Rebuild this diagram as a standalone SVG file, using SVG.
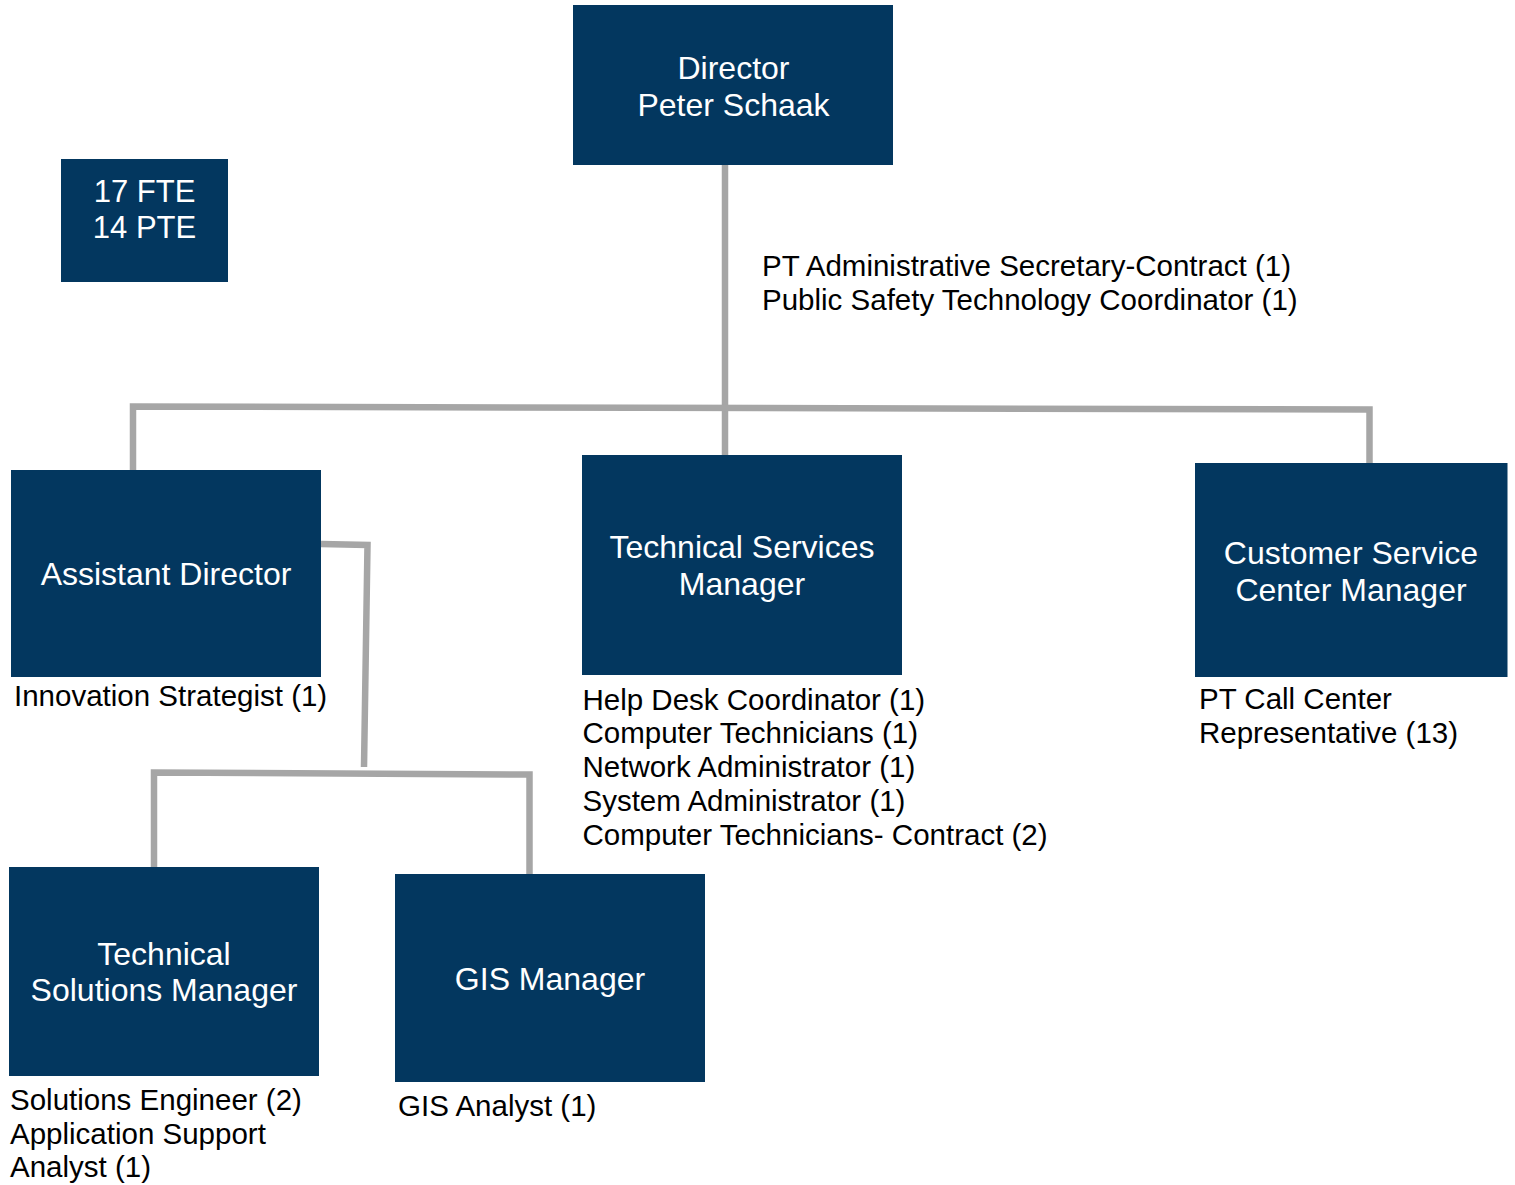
<svg xmlns="http://www.w3.org/2000/svg" width="1515" height="1185" viewBox="0 0 1515 1185">
<style>
.box{fill:#03375F;}
.bt{font-family:"Liberation Sans",Arial,sans-serif;font-size:32px;fill:#FFFFFF;text-anchor:middle;}
.lb{font-family:"Liberation Sans",Arial,sans-serif;font-size:29.5px;fill:#000000;}
.ln{fill:none;stroke:#A6A6A6;stroke-width:6.5;stroke-linejoin:miter;stroke-linecap:butt;}
</style>
<rect width="1515" height="1185" fill="#FFFFFF"/>
<g id="connectors">
<line class="ln" x1="725" y1="165" x2="725" y2="456"/>
<polyline class="ln" points="133,470 133,406.5 1369.5,409.5 1369.5,464"/>
<polyline class="ln" points="321,544 367.5,545 364,767"/>
<polyline class="ln" points="154,868 154,772.5 529.5,774.5 529.5,875"/>
</g>
<g id="fte">
<rect class="box" x="61" y="159" width="167" height="123"/>
<text class="bt" style="font-size:31px" x="144.5" y="201.5">17 FTE</text>
<text class="bt" style="font-size:31px" x="144.5" y="237.5">14 PTE</text>
</g>
<g id="director">
<rect class="box" x="573" y="5" width="320" height="160"/>
<text class="bt" x="733.5" y="79">Director</text>
<text class="bt" x="733.5" y="116">Peter Schaak</text>
<text class="lb" x="762" y="276">PT Administrative Secretary-Contract (1)</text>
<text class="lb" x="762" y="309.5">Public Safety Technology Coordinator (1)</text>
</g>
<g id="assistant-director">
<rect class="box" x="11" y="470" width="310" height="207"/>
<text class="bt" x="166" y="585">Assistant Director</text>
<text class="lb" x="14" y="705.5">Innovation Strategist (1)</text>
</g>
<g id="technical-services-manager">
<rect class="box" x="582" y="455" width="320" height="220"/>
<text class="bt" x="742" y="558">Technical Services</text>
<text class="bt" x="742" y="595">Manager</text>
<text class="lb" x="582.5" y="709.5">Help Desk Coordinator (1)</text>
<text class="lb" x="582.5" y="743.3">Computer Technicians (1)</text>
<text class="lb" x="582.5" y="777">Network Administrator (1)</text>
<text class="lb" x="582.5" y="810.8">System Administrator (1)</text>
<text class="lb" x="582.5" y="844.5">Computer Technicians- Contract (2)</text>
</g>
<g id="customer-service-center-manager">
<rect class="box" x="1195" y="463" width="312.5" height="214"/>
<text class="bt" x="1351" y="564">Customer Service</text>
<text class="bt" x="1351" y="601">Center Manager</text>
<text class="lb" x="1199" y="709">PT Call Center</text>
<text class="lb" x="1199" y="743">Representative (13)</text>
</g>
<g id="technical-solutions-manager">
<rect class="box" x="9" y="867" width="310" height="209"/>
<text class="bt" x="164" y="965">Technical</text>
<text class="bt" x="164" y="1001">Solutions Manager</text>
<text class="lb" x="10" y="1110">Solutions Engineer (2)</text>
<text class="lb" x="10" y="1143.5">Application Support</text>
<text class="lb" x="10" y="1177.3">Analyst (1)</text>
</g>
<g id="gis-manager">
<rect class="box" x="395" y="874" width="310" height="208"/>
<text class="bt" x="550" y="989.5">GIS Manager</text>
<text class="lb" x="398" y="1115.7">GIS Analyst (1)</text>
</g>
</svg>
